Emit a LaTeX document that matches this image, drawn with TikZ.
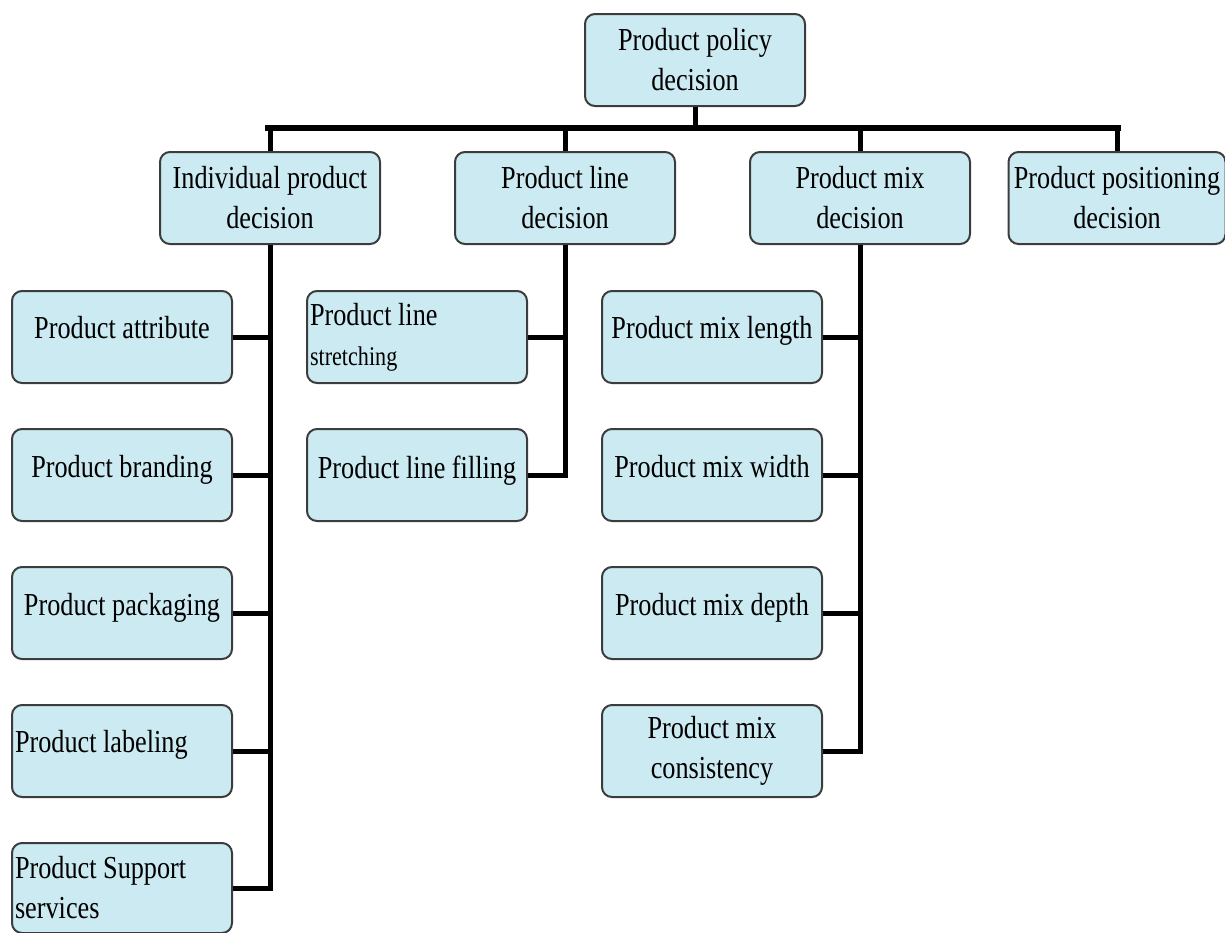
\documentclass[tikz,border=0pt]{standalone}
\usepackage{fontspec}
\setmainfont[FakeStretch=0.82]{Liberation Serif}
\definecolor{boxfill}{RGB}{204,234,241}
\definecolor{boxline}{RGB}{60,60,60}
\begin{document}
\begin{tikzpicture}[x=1pt,y=-1pt,
  box/.style={draw=boxline,line width=2pt,fill=boxfill,rounded corners=10pt,
    minimum width=220pt,minimum height=92pt,inner sep=2pt,
    font=\fontsize{32}{40}\selectfont,align=center},
  leftbox/.style={box,align=flush left,text width=214pt},
  link/.style={line width=5pt,line join=miter},
  bus/.style={line width=6pt}]
\useasboundingbox (0,0) rectangle (1225,932);
\begin{scope}
\clip (0,0) rectangle (1225,932);

% top
\node[box] (top) at (695,60) {Product policy\\decision};

% second level
\node[box] (ind) at (270,198) {Individual product\\decision};
\node[box] (line) at (565,198) {Product line\\decision};
\node[box] (mix) at (860,198) {Product mix\\decision};
\node[box,minimum width=217pt] (pos) at (1117,198) {Product positioning\\decision};

% individual product column
\node[box] (a1) at (122,337) {\raisebox{20pt}{Product attribute}};
\node[box] (a2) at (122,475) {\raisebox{18pt}{Product branding}};
\node[box] (a3) at (122,613) {\raisebox{18pt}{Product packaging}};
\node[leftbox] (a4) at (122,751) {\raisebox{20pt}{Product labeling}};
\node[leftbox,minimum height=90pt] (a5) at (122,888) {\raisebox{-6pt}{Product Support}\\\raisebox{-6pt}{services}};

% product line column
\node[leftbox] (b1) at (417,337) {\raisebox{4pt}{Product line}\\{\fontsize{27}{34}\selectfont\raisebox{4pt}{stretching}}};
\node[box] (b2) at (417,475) {\raisebox{16pt}{Product line filling}};

% product mix column
\node[box] (c1) at (712,337) {\raisebox{20pt}{Product mix length}};
\node[box] (c2) at (712,475) {\raisebox{18pt}{Product mix width}};
\node[box] (c3) at (712,613) {\raisebox{18pt}{Product mix depth}};
\node[box] (c4) at (712,751) {Product mix\\consistency};
\end{scope}

% horizontal bus
\coordinate (busL) at (268,128);
\coordinate (busR) at (1118,128);
\draw[bus] ([xshift=-3pt]busL) -- ([xshift=3pt]busR);
\draw[link] (top.south) -- (top.south |- busL);
\draw[link] (ind.north) -- (ind.north |- busL);
\draw[link] (line.north) -- (line.north |- busL);
\draw[link] (mix.north) -- (mix.north |- busL);
\draw[link] (pos.north) -- (pos.north |- busL);

% spines and branches
\draw[link] (ind.south) -- (ind.south |- a5.east) -- (a5.east);
\foreach \n in {a1,a2,a3,a4} \draw[link] (\n.east) -- (\n.east -| ind.south);
\draw[link] (line.south) -- (line.south |- b2.east) -- (b2.east);
\draw[link] (b1.east) -- (b1.east -| line.south);
\draw[link] (mix.south) -- (mix.south |- c4.east) -- (c4.east);
\foreach \n in {c1,c2,c3} \draw[link] (\n.east) -- (\n.east -| mix.south);
\end{tikzpicture}
\end{document}
